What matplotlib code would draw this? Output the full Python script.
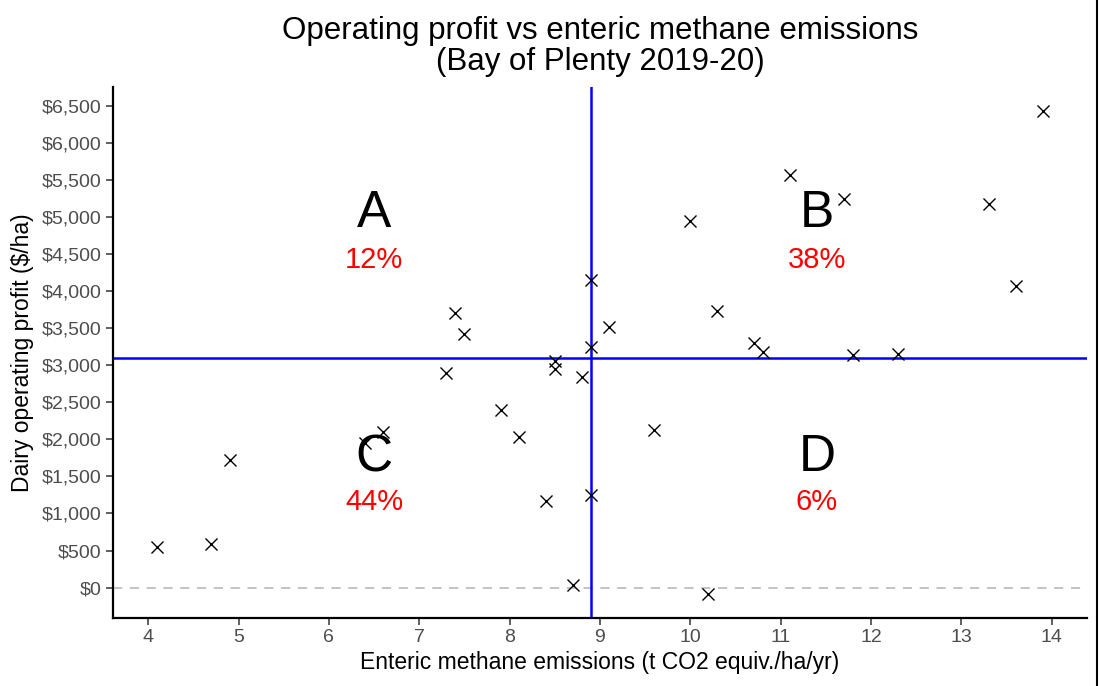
import numpy as np
import matplotlib.pyplot as plt
from matplotlib.lines import Line2D
from matplotlib.ticker import FuncFormatter

plt.rcParams['font.family'] = ['Liberation Sans', 'DejaVu Sans']

# datos (t CO2 eq/ha/yr, $/ha)
emissions = [4.1, 4.7, 4.9, 6.4, 6.6, 7.3, 7.4, 7.5, 7.9, 8.1, 8.4, 8.5, 8.5, 8.7, 8.8, 8.9,
             8.9, 8.9, 9.1, 9.6, 10.0, 10.2, 10.3, 10.7, 10.8, 11.1, 11.7, 11.8, 12.3, 13.3, 13.6, 13.9]
profit = [550, 590, 1720, 1950, 2100, 2890, 3710, 3420, 2400, 2030, 1170, 3060, 2950, 35, 2840, 4150,
          3250, 1250, 3510, 2120, 4940, -80, 3735, 3300, 3180, 5560, 5240, 3140, 3150, 5175, 4070, 6430]

mean_emissions = 8.9
mean_profit = 3100

quadrants = ['A', 'B', 'C', 'D']
quad_pct = ['12%', '38%', '44%', '6%']
quad_x = [6.5, 11.4, 6.5, 11.4]
quad_y = [5050, 5050, 1750, 1750]
pct_y = [4420, 4420, 1160, 1160]

x_ticks = list(range(4, 15))
y_ticks = list(range(0, 6501, 500))

fig = plt.figure(figsize=(11, 6.86), dpi=100)
ax = fig.add_axes([0.1027, 0.0996, 0.8855, 0.774])

# linea de cero
ax.axhline(0, color='#b3b3b3', lw=1.1, ls=(0, (6, 5)), zorder=1)

ax.scatter(emissions, profit, marker='x', s=75, color='black', linewidths=1.0, zorder=3)

# lineas de promedio
ax.axvline(mean_emissions, color='#0000ff', lw=1.8, zorder=2)
ax.axhline(mean_profit, color='#0000ff', lw=1.8, zorder=2)

for q, p, qx, qy, py in zip(quadrants, quad_pct, quad_x, quad_y, pct_y):
    ax.text(qx, qy, q, fontsize=37, ha='center', va='center', color='black', zorder=4)
    ax.text(qx, py, p, fontsize=21, ha='center', va='center', color='red', zorder=4)

xmin, xmax = min(emissions), max(emissions)
ymin, ymax = min(profit), max(profit)
ax.set_xlim(xmin - 0.05 * (xmax - xmin), xmax + 0.05 * (xmax - xmin))
ax.set_ylim(ymin - 0.05 * (ymax - ymin), ymax + 0.05 * (ymax - ymin))

ax.set_xticks(x_ticks)
ax.set_yticks(y_ticks)
ax.yaxis.set_major_formatter(FuncFormatter(lambda v, pos: f'${v:,.0f}'))
ax.tick_params(axis='both', labelsize=14, labelcolor='#4d4d4d', color='#333333',
               length=5, width=1.1, direction='out')

for s in ['top', 'right']:
    ax.spines[s].set_visible(False)
for s in ['left', 'bottom']:
    ax.spines[s].set_linewidth(1.6)
    ax.spines[s].set_color('black')

ax.set_xlabel('Enteric methane emissions (t CO2 equiv./ha/yr)', fontsize=16.5, labelpad=3)
ax.set_ylabel('Dairy operating profit ($/ha)', fontsize=16.5, labelpad=5)
ax.set_title('Operating profit vs enteric methane emissions\n(Bay of Plenty 2019-20)',
             fontsize=22.5, pad=12, linespacing=1.05)

# borde derecho de la imagen
fig.add_artist(Line2D([0.9975, 0.9975], [0, 1], color='black', lw=1.5, transform=fig.transFigure))

fig.savefig('out.png', dpi=100)
